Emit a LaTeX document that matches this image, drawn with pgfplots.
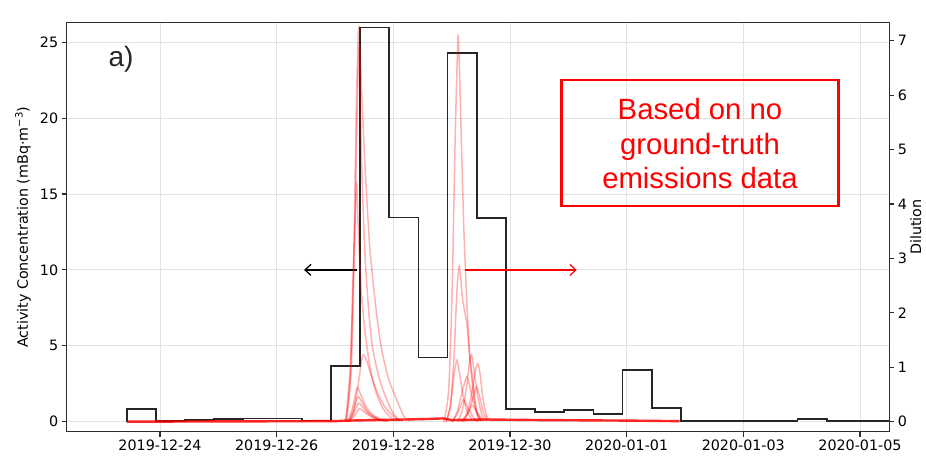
\documentclass[border=0pt]{standalone}
\usepackage{pgfplots}
\pgfplotsset{compat=1.18}
\usepackage{fontspec}
\setmainfont{DejaVu Sans}
\newfontfamily\arialfont{Liberation Sans}
\usetikzlibrary{arrows.meta}
\definecolor{gridgray}{RGB}{226,226,226}
\definecolor{spine}{RGB}{45,45,45}
\newcommand{\lblfont}{\fontsize{14.3}{17}\selectfont}
\begin{document}
\begin{tikzpicture}
\pgfplotsset{
  base/.style={
    scale only axis, width=822.6pt, height=409pt,
    xmin=-1.6, xmax=12.503,
    axis line style={spine, line width=1.1pt},
    tick style={spine, line width=1.1pt},
    major tick length=5pt,
    tick align=outside,
    tick label style={font=\lblfont},
    label style={font=\lblfont},
    /pgf/number format/assume math mode=true,
  },
  redc/.style={red, opacity=0.3, line width=1.5pt, smooth, tension=0.4},
}
\begin{axis}[base,
  ymin=-0.659, ymax=26.29,
  xtick={0,2,...,12},
  xticklabels={2019-12-24,2019-12-26,2019-12-28,2019-12-30,2020-01-01,2020-01-03,2020-01-05},
  ytick={0,5,...,25},
  xtick pos=left, ytick pos=left,
  grid=major, major grid style={gridgray, line width=0.9pt},
  ylabel={Activity Concentration (mBq·m\textsuperscript{−3})},
  every axis y label/.style={at={(axis description cs:-0.0531,0.5)}, anchor=center, rotate=90, font=\lblfont},
]
\addplot[const plot mark left, black!85, line width=1.6pt] coordinates {
(-0.57,0) (-0.57,0.82) (-0.07,0.05) (0.43,0.10) (0.93,0.18) (1.43,0.22) (1.93,0.20) (2.43,0.09)
(2.93,3.67) (3.43,25.98) (3.93,13.45) (4.43,4.22) (4.93,24.3) (5.43,13.44) (5.93,0.85) (6.43,0.64)
(6.93,0.77) (7.43,0.51) (7.93,3.4) (8.43,0.92) (8.93,0.03) (10.93,0.18) (11.43,0.03) (12.6,0.03)
};
\draw[black, line width=1.3pt, -{Straight Barb[length=6pt,width=11pt]}] (axis cs:3.372,10) -- (axis cs:2.469,10);
\draw[red, line width=1.2pt, -{Straight Barb[length=6pt,width=11pt]}] (axis cs:5.229,10) -- (axis cs:7.144,10);
\end{axis}
\begin{axis}[base,
  ymin=-0.184, ymax=7.331,
  axis x line=none, axis y line*=right,
  ytick={0,1,...,7},
  ylabel={Dilution},
  every axis y label/.style={at={(axis description cs:1.0322,0.5)}, anchor=center, rotate=90, font=\lblfont},
]
% baseline
\addplot[red, opacity=0.85, line width=2.4pt] coordinates {
(-0.57,0) (1.0,0.005) (3.0,0.01) (3.2,0.02) (4.2,0.04) (4.6,0.05) (4.85,0.06) (5.0,0.03) (5.6,0.04) (6.5,0.03) (8.0,0.02) (8.91,0.01)
};
% group 1
\addplot[redc] coordinates {(3.18,0) (3.26,0.8) (3.32,3.0) (3.37,6.0) (3.41,7.26) (3.45,5.0) (3.51,3.15) (3.58,2.0) (3.65,1.32) (3.77,0.75) (3.89,0.4) (4.0,0.15) (4.1,0.03)};
\addplot[redc] coordinates {(3.20,0) (3.28,1.0) (3.34,3.5) (3.39,6.2) (3.42,6.9) (3.46,6.0) (3.50,5.0) (3.55,4.0) (3.60,3.15) (3.70,2.1) (3.80,1.32) (3.93,0.75) (4.06,0.4) (4.18,0.1) (4.28,0.02)};
\addplot[redc] coordinates {(3.18,0) (3.26,1.0) (3.32,3.0) (3.37,4.35) (3.40,3.5) (3.45,2.4) (3.52,1.6) (3.60,1.0) (3.70,0.55) (3.82,0.25) (3.95,0.08) (4.05,0.02)};
\addplot[redc] coordinates {(3.25,0) (3.32,0.2) (3.40,0.7) (3.46,1.15) (3.49,1.23) (3.55,1.1) (3.62,0.85) (3.72,0.55) (3.85,0.28) (4.0,0.1) (4.12,0.02)};
\addplot[redc] coordinates {(3.22,0) (3.30,0.25) (3.38,0.62) (3.44,0.5) (3.52,0.3) (3.62,0.15) (3.75,0.06) (3.9,0.01)};
\addplot[redc] coordinates {(3.23,0) (3.31,0.2) (3.39,0.46) (3.46,0.36) (3.55,0.2) (3.68,0.08) (3.85,0.01)};
\addplot[redc] coordinates {(3.24,0) (3.32,0.15) (3.40,0.34) (3.48,0.26) (3.58,0.14) (3.72,0.05) (3.9,0.01)};
\addplot[redc] coordinates {(3.25,0) (3.34,0.12) (3.42,0.24) (3.50,0.18) (3.62,0.09) (3.80,0.02)};
% group 2
\addplot[redc] coordinates {(4.87,0) (4.95,0.6) (5.01,2.5) (5.06,5.2) (5.11,7.09) (5.14,6.2) (5.17,5.0) (5.21,3.5) (5.26,2.2) (5.31,1.2) (5.37,0.55) (5.44,0.15) (5.52,0.03)};
\addplot[redc] coordinates {(4.90,0) (4.98,0.3) (5.04,1.2) (5.09,2.4) (5.13,2.86) (5.19,2.23) (5.26,1.8) (5.31,1.2) (5.37,0.7) (5.43,0.15) (5.50,0.02)};
\addplot[redc] coordinates {(4.91,0) (4.98,0.3) (5.04,0.85) (5.09,1.13) (5.14,0.85) (5.20,0.45) (5.26,0.2) (5.35,0.04)};
\addplot[redc] coordinates {(5.10,0) (5.18,0.2) (5.25,0.6) (5.30,1.05) (5.34,1.23) (5.39,0.9) (5.45,0.45) (5.52,0.12) (5.60,0.02)};
\addplot[redc] coordinates {(5.20,0) (5.28,0.2) (5.35,0.55) (5.41,0.95) (5.45,1.07) (5.49,0.85) (5.54,0.4) (5.60,0.1) (5.66,0.02)};
\addplot[redc] coordinates {(5.02,0) (5.10,0.2) (5.18,0.55) (5.26,0.83) (5.32,0.6) (5.40,0.25) (5.48,0.05)};
\addplot[redc] coordinates {(5.20,0) (5.30,0.2) (5.38,0.5) (5.43,0.64) (5.48,0.45) (5.55,0.15) (5.62,0.02)};
\addplot[redc] coordinates {(5.00,0) (5.10,0.15) (5.20,0.4) (5.28,0.25) (5.38,0.06) (5.45,0.0)};
\addplot[redc] coordinates {(5.15,0) (5.25,0.12) (5.35,0.3) (5.43,0.18) (5.52,0.04)};
\node[anchor=base east, inner sep=0pt, font=\lblfont] at ([xshift=-4pt,yshift=4.7pt]rel axis cs:1,1) {1e−15};
\end{axis}
% annotations
\node[anchor=base west, inner sep=0pt, font=\arialfont\fontsize{28}{32}\selectfont, text=black!85] at (41.6pt,365pt) {a)};
\draw[red, line width=2.6pt] (495pt,225.7pt) rectangle (771.6pt,351.7pt);
\node[anchor=base, inner sep=0pt, text=red, font=\arialfont\fontsize{29.3}{34}\selectfont] at (633.3pt,312.4pt) {Based on no};
\node[anchor=base, inner sep=0pt, text=red, font=\arialfont\fontsize{29.3}{34}\selectfont] at (633.3pt,277.6pt) {ground-truth};
\node[anchor=base, inner sep=0pt, text=red, font=\arialfont\fontsize{29.3}{34}\selectfont] at (633.3pt,243.4pt) {emissions data};
\pgfresetboundingbox
\useasboundingbox (-66.7pt,-26.3pt) rectangle (859.3pt,431.7pt);
\end{tikzpicture}
\end{document}
